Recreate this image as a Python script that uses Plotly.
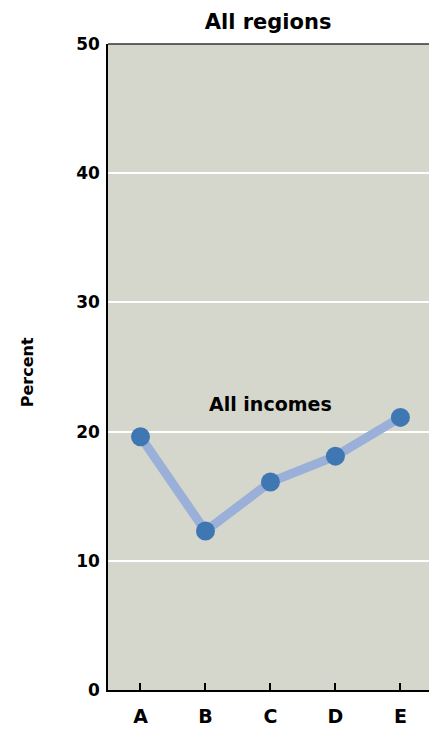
import plotly.graph_objects as go

categories = ["A", "B", "C", "D", "E"]
values = [19.6, 12.3, 16.1, 18.1, 21.1]
y_ticks = [0, 10, 20, 30, 40, 50]

FONT = "DejaVu Sans"

fig = go.Figure()
fig.add_trace(go.Scatter(
    x=categories, y=values, mode="lines+markers",
    line=dict(color="#9bb0d8", width=9),
    marker=dict(color="#3f77b3", size=19),
    showlegend=False,
))
fig.add_annotation(x=2, y=22.1, text="All incomes", showarrow=False,
                   font=dict(family=FONT, size=19, color="black", weight="bold"))
fig.add_annotation(x=-0.252, y=0.492, xref="paper", yref="paper", text="Percent",
                   xanchor="center", yanchor="middle",
                   textangle=-90, showarrow=False,
                   font=dict(family=FONT, size=16, color="black", weight="bold"))

fig.update_layout(
    width=429, height=730,
    margin=dict(l=108, r=0, t=44, b=40),
    paper_bgcolor="white",
    plot_bgcolor="#d5d6cc",
    title=dict(text="All regions", x=0.625, xanchor="center", y=0.97, yanchor="middle",
               font=dict(family=FONT, size=21, color="black", weight="bold")),
    font=dict(family=FONT, size=14, color="black"),
)
fig.update_xaxes(
    range=[-0.5, 4.44], showgrid=False, showline=True, linecolor="black", linewidth=2,
    ticks="inside", ticklen=7, tickwidth=2, tickcolor="black",
    tickfont=dict(family=FONT, size=19, color="black", weight="bold"),
    ticklabelstandoff=8, zeroline=False,
)
fig.update_yaxes(
    range=[0, 50], tickvals=y_ticks, showgrid=True, gridcolor="white", gridwidth=1.5,
    showline=True, linecolor="black", linewidth=1.5,
    ticks="", tickfont=dict(family=FONT, size=17, color="black", weight="bold"),
    ticklabelstandoff=3, zeroline=False,
)
fig.add_shape(type="line", xref="paper", yref="paper", x0=0, x1=1, y0=1, y1=1,
              line=dict(color="#333333", width=1.5))
fig.write_html("out.html", config={"displayModeBar": False},
               post_script="document.body.style.margin='0';document.body.style.overflow='hidden';")
